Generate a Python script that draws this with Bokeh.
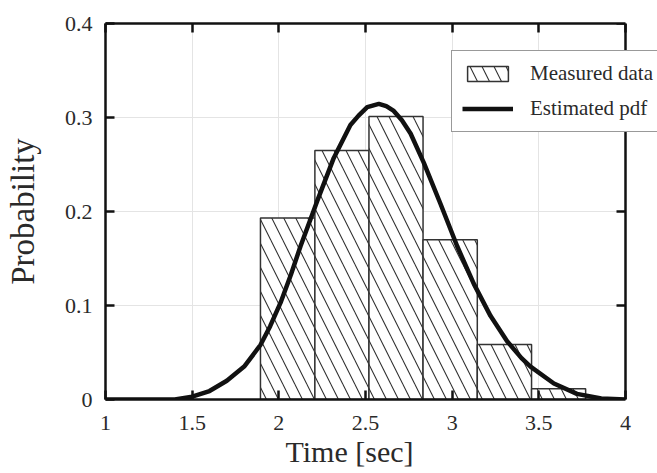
from bokeh.plotting import figure
from bokeh.models import LinearAxis, FixedTicker, Legend, LegendItem, Range1d, BoxAnnotation, Title
from bokeh.embed import file_html
from bokeh.resources import INLINE

# Histogram bins (edges) and probabilities
bin_left = [1.894, 2.208, 2.520, 2.832, 3.145, 3.458]
bin_right = [2.208, 2.520, 2.832, 3.145, 3.458, 3.770]
probability = [0.193, 0.265, 0.301, 0.170, 0.0585, 0.0114]

# Estimated pdf curve points
pdf_x = [1.00, 1.40, 1.50, 1.60, 1.70, 1.80, 1.894, 1.95, 2.01, 2.07, 2.125,
         2.221, 2.317, 2.413, 2.46, 2.51, 2.577, 2.62, 2.663, 2.71, 2.76, 2.836,
         2.933, 3.029, 3.125, 3.221, 3.317, 3.40, 3.452, 3.587, 3.72, 3.86, 4.00]
pdf_y = [0.000, 0.000, 0.003, 0.009, 0.020, 0.035, 0.058, 0.078, 0.103, 0.133, 0.163,
         0.211, 0.257, 0.292, 0.302, 0.311, 0.3145, 0.312, 0.307, 0.297, 0.283, 0.252,
         0.208, 0.163, 0.123, 0.089, 0.062, 0.044, 0.035, 0.017, 0.006, 0.001, 0.000]

x_ticks = [1, 1.5, 2, 2.5, 3, 3.5, 4]
x_tick_labels = ["1", "1.5", "2", "2.5", "3", "3.5", "4"]
y_ticks = [0, 0.1, 0.2, 0.3, 0.4]
y_tick_labels = ["0", "0.1", "0.2", "0.3", "0.4"]
x_label = "Time [sec]"
y_label = "Probability"
legend_labels = ["Measured data", "Estimated pdf"]

X_MIN, X_MAX = 1, 4
Y_MIN, Y_MAX = 0, 0.4

FONT = "Liberation Serif"
TXT = "#2a2a2a"
INK = "#111111"

W, H = 657, 473
LEFT, RIGHT_GAP, TOP, BOTTOM = 105, 32, 23, 74
# the plotting frame is stretched to the canvas edge so that the legend may
# extend past the right border of the axes box (as in the reference)
px_per_unit = (W - LEFT - RIGHT_GAP) / (X_MAX - X_MIN)
x_view_end = X_MAX + RIGHT_GAP / px_per_unit

p = figure(width=W, height=H, x_range=Range1d(X_MIN, x_view_end), y_range=Range1d(Y_MIN, Y_MAX),
           output_backend="svg", toolbar_location=None,
           min_border_left=LEFT, min_border_right=0, min_border_top=TOP, min_border_bottom=BOTTOM)
p.background_fill_color = "white"
p.border_fill_color = "white"
p.outline_line_color = None

p.xgrid.ticker = FixedTicker(ticks=x_ticks)
p.ygrid.ticker = FixedTicker(ticks=y_ticks)
p.grid.grid_line_color = "#e4e4e4"
p.grid.grid_line_width = 1

# blank out the area right of the axes box
p.add_layout(BoxAnnotation(left=X_MAX, fill_color="white", fill_alpha=1.0,
                           line_color=None, level="underlay"))

bars = p.quad(left=bin_left, right=bin_right, bottom=0, top=probability,
              fill_color="white", line_color="#333333", line_width=1.5,
              hatch_pattern="left_diagonal_line", hatch_color="#333333",
              hatch_scale=24, hatch_weight=1.1)
line = p.line(pdf_x, pdf_y, line_color=INK, line_width=4.5)

def style_axis(ax, ticks, labels, show_labels):
    ax.ticker = FixedTicker(ticks=ticks)
    ax.major_label_overrides = {t: l for t, l in zip(ticks, labels)}
    ax.major_tick_in = 9
    ax.major_tick_out = 0
    ax.major_tick_line_width = 2.5
    ax.major_tick_line_color = INK
    ax.minor_tick_line_color = None
    ax.axis_line_color = INK
    ax.axis_line_width = 2.5
    ax.major_label_text_font = FONT
    ax.major_label_text_color = TXT
    if show_labels:
        ax.major_label_text_font_size = "22px"
    else:
        ax.major_label_text_font_size = "0px"
        ax.major_label_text_alpha = 0

xa = p.xaxis[0]
ya = p.yaxis[0]
style_axis(xa, x_ticks, x_tick_labels, True)
style_axis(ya, y_ticks, y_tick_labels, True)
xa.bounds = (X_MIN, X_MAX)
xa.major_label_standoff = 16
ya.major_label_standoff = 13
ya.axis_label = y_label
ya.axis_label_text_font = FONT
ya.axis_label_text_font_style = "normal"
ya.axis_label_text_color = TXT
ya.axis_label_text_font_size = "33px"
ya.axis_label_standoff = 21

# x-axis title, centred under the axes box (not under the stretched frame)
p.add_layout(Title(text=x_label, align="left", offset=180, standoff=0,
                   text_font=FONT, text_font_size="30px", text_font_style="normal",
                   text_color=TXT), "below")

top_ax = LinearAxis(bounds=(X_MIN, X_MAX))
style_axis(top_ax, x_ticks, x_tick_labels, False)
p.add_layout(top_ax, "above")
right_ax = LinearAxis(fixed_location=X_MAX)
style_axis(right_ax, y_ticks, y_tick_labels, False)
p.add_layout(right_ax, "right")

legend = Legend(items=[LegendItem(label=legend_labels[0], renderers=[bars]),
                       LegendItem(label=legend_labels[1], renderers=[line])],
                location=(346, 267), orientation="vertical",
                border_line_color="#333333", border_line_width=1.5,
                background_fill_color="white", background_fill_alpha=1.0,
                label_text_font=FONT, label_text_font_size="21px", label_text_color=TXT,
                glyph_width=51, glyph_height=19, label_height=24, label_standoff=17,
                padding=10, spacing=10, margin=0)
p.add_layout(legend)

open("out.html", "w").write(file_html(p, INLINE))
